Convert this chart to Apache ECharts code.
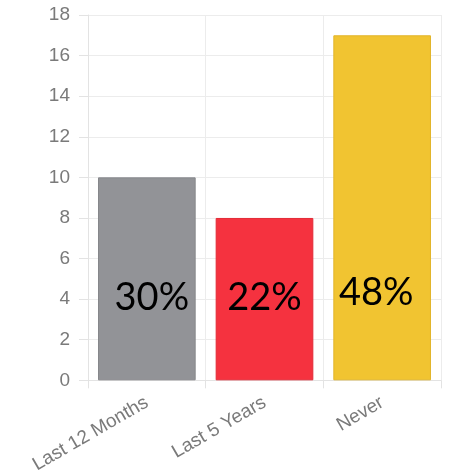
<!DOCTYPE html>
<html>
<head>
<meta charset="utf-8">
<script src="https://cdn.jsdelivr.net/npm/echarts@6/dist/echarts.min.js"></script>
<style>
  html, body { margin: 0; padding: 0; background: #fff; }
  #main { width: 454px; height: 476px; }
</style>
</head>
<body>
<div id="main"></div>
<script>
// 数据
var categories = ['Last 12 Months', 'Last 5 Years', 'Never'];
var counts = [10, 8, 17];
var percentLabels = ['30%', '22%', '48%'];
var barColors = ['#929397', '#F5323F', '#F1C431'];
var borderColors = ['#86878b', '#e32a36', '#e2b52a'];
var labelOffsets = [[5, 0], [0, 0], [-6, -5]];

var myChart = echarts.init(document.getElementById('main'));

var seriesData = counts.map(function (v, i) {
    return {
        value: v,
        itemStyle: { color: barColors[i], borderColor: borderColors[i], borderWidth: 1 },
        label: { formatter: percentLabels[i], offset: labelOffsets[i] }
    };
});

var option = {
    animation: false,
    grid: { left: 88, right: 13, top: 15, bottom: 94 },
    xAxis: {
        type: 'category',
        data: categories,
        axisLine: { lineStyle: { color: '#e3e3e3' } },
        axisTick: { show: true, length: 8, lineStyle: { color: '#e3e3e3' } },
        splitLine: { show: true, lineStyle: { color: '#ececec' } },
        axisLabel: {
            rotate: 30,
            margin: 21,
            color: '#7a7a7a',
            fontSize: 19,
            fontFamily: 'Liberation Sans'
        }
    },
    yAxis: {
        type: 'value',
        min: 0,
        max: 18,
        interval: 2,
        axisLine: { show: true, lineStyle: { color: '#e3e3e3' } },
        axisTick: { show: true, length: 9, lineStyle: { color: '#e3e3e3' } },
        splitLine: { lineStyle: { color: '#ececec' } },
        axisLabel: {
            margin: 18,
            color: '#7a7a7a',
            fontSize: 19,
            fontFamily: 'Liberation Sans'
        }
    },
    series: [{
        type: 'bar',
        data: seriesData,
        barCategoryGap: '17%',
        label: {
            show: true,
            position: 'insideBottom',
            distance: 64,
            color: '#000',
            fontSize: 38,
            fontFamily: 'Lato'
        }
    }]
};

myChart.setOption(option);
</script>
</body>
</html>
